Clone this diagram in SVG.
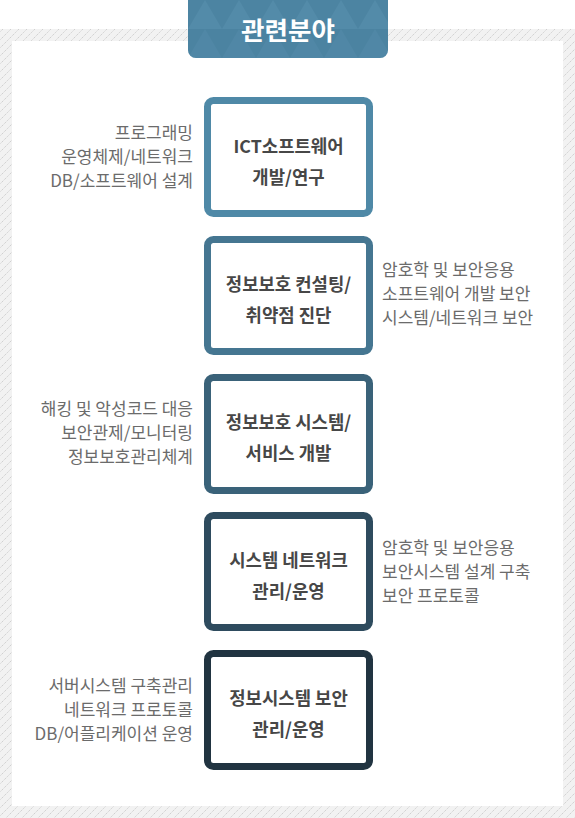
<svg xmlns="http://www.w3.org/2000/svg" width="575" height="818" viewBox="0 0 575 818">
<defs>
<pattern id="hatch" width="8" height="8" patternUnits="userSpaceOnUse">
<rect width="8" height="8" fill="#f2f2f2"/>
<path d="M-1,9 L9,-1" stroke="#c9c9c9" stroke-width="1" stroke-dasharray="1.2 1"/>
<path d="M-1,1 L1,-1 M7,9 L9,7" stroke="#c9c9c9" stroke-width="1" stroke-dasharray="1.2 1"/>
</pattern>
<pattern id="tri" width="34" height="29" patternUnits="userSpaceOnUse" x="188" y="0">
<rect width="34" height="29" fill="#4c84a2"/>
<path d="M0,29 L17,0 L34,29 Z" fill="#538ba9"/>
</pattern>
<clipPath id="hdrclip"><rect x="188" y="-10" width="200" height="68" rx="8"/></clipPath>
</defs>
<style>
.side{font-family:"Noto Sans CJK KR","Noto Sans",sans-serif;font-size:17px;fill:#6b6b6b}
.lbl{font-family:"Noto Sans CJK KR","Noto Sans",sans-serif;font-size:17.8px;font-weight:bold;fill:#474747;text-anchor:middle}
.box{fill:#ffffff;stroke-width:7}
</style>
<rect x="0" y="29" width="575" height="789" fill="url(#hatch)"/>
<rect x="12" y="41" width="551" height="765" fill="#ffffff"/>
<g id="header">
<g clip-path="url(#hdrclip)">
<rect x="188" y="-10" width="200" height="68" fill="url(#tri)"/>
<rect x="188" y="29" width="200" height="29" fill="#4a82a0" opacity="0.35"/>
</g>
<text x="288" y="40" text-anchor="middle" font-family="'Noto Sans CJK KR','Noto Sans',sans-serif" font-size="25.5" font-weight="bold" fill="#ffffff">관련분야</text>
</g>
<g id="connectors"></g>
<g id="node1">
<rect class="box" x="207.5" y="100.5" width="162" height="113" rx="6" stroke="#4f89a7"/>
<text class="lbl" x="288.5" y="153">ICT소프트웨어</text>
<text class="lbl" x="288.5" y="183.5">개발/연구</text>
</g>
<g id="node1-fields">
<text class="side" text-anchor="end" x="193" y="139">프로그래밍</text>
<text class="side" text-anchor="end" x="193" y="163">운영체제/네트워크</text>
<text class="side" text-anchor="end" x="193" y="187">DB/소프트웨어 설계</text>
</g>
<g id="node2">
<rect class="box" x="207.5" y="239.5" width="162" height="112" rx="6" stroke="#457691"/>
<text class="lbl" x="288.5" y="291">정보보호 컨설팅/</text>
<text class="lbl" x="288.5" y="321.5">취약점 진단</text>
</g>
<g id="node2-fields">
<text class="side" x="382" y="276">암호학 및 보안응용</text>
<text class="side" x="382" y="300">소프트웨어 개발 보안</text>
<text class="side" x="382" y="324">시스템/네트워크 보안</text>
</g>
<g id="node3">
<rect class="box" x="207.5" y="377.5" width="162" height="113" rx="6" stroke="#3a6279"/>
<text class="lbl" x="288.5" y="429">정보보호 시스템/</text>
<text class="lbl" x="288.5" y="459.5">서비스 개발</text>
</g>
<g id="node3-fields">
<text class="side" text-anchor="end" x="193" y="415">해킹 및 악성코드 대응</text>
<text class="side" text-anchor="end" x="193" y="439">보안관제/모니터링</text>
<text class="side" text-anchor="end" x="193" y="463">정보보호관리체계</text>
</g>
<g id="node4">
<rect class="box" x="207.5" y="515.5" width="162" height="112" rx="6" stroke="#2e4b5e"/>
<text class="lbl" x="288.5" y="567">시스템 네트워크</text>
<text class="lbl" x="288.5" y="597.5">관리/운영</text>
</g>
<g id="node4-fields">
<text class="side" x="382" y="554">암호학 및 보안응용</text>
<text class="side" x="382" y="578">보안시스템 설계 구축</text>
<text class="side" x="382" y="602">보안 프로토콜</text>
</g>
<g id="node5">
<rect class="box" x="207.5" y="653.5" width="162" height="113" rx="6" stroke="#213441"/>
<text class="lbl" x="288.5" y="705">정보시스템 보안</text>
<text class="lbl" x="288.5" y="735.5">관리/운영</text>
</g>
<g id="node5-fields">
<text class="side" text-anchor="end" x="193" y="692">서버시스템 구축관리</text>
<text class="side" text-anchor="end" x="193" y="716">네트워크 프로토콜</text>
<text class="side" text-anchor="end" x="193" y="740">DB/어플리케이션 운영</text>
</g>
</svg>
